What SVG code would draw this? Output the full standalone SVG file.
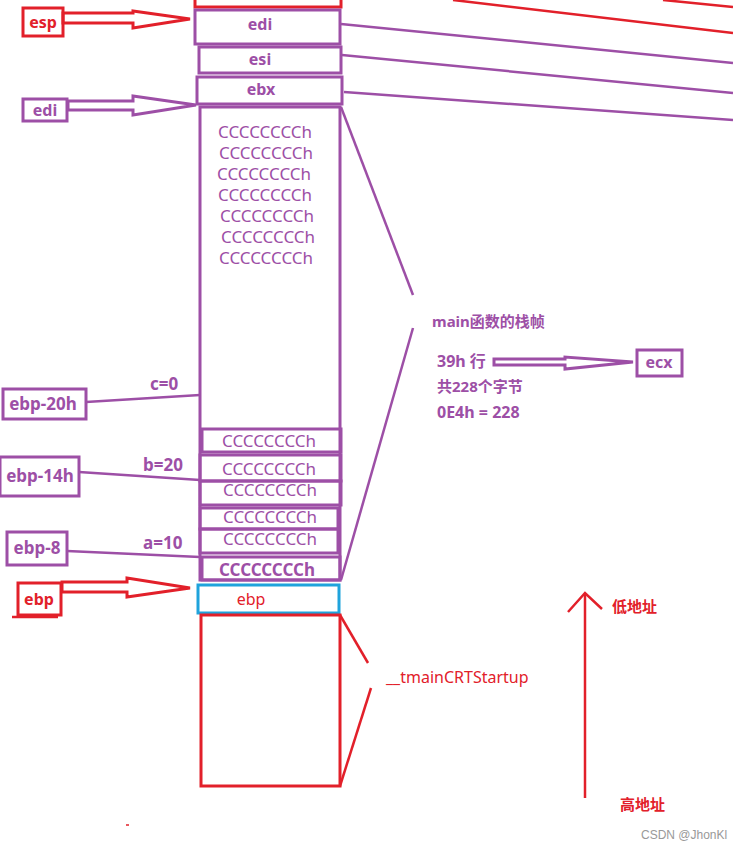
<svg xmlns="http://www.w3.org/2000/svg" width="733" height="849" viewBox="0 0 733 849">
<style>
text{font-family:"Noto Sans","Noto Sans CJK SC",sans-serif}
.p{fill:none;stroke:#9d4fa6;stroke-width:3}
.r{fill:none;stroke:#e2202a;stroke-width:3}
.b{fill:none;stroke:#1fa3dc;stroke-width:3}
.pl{fill:none;stroke:#9d4fa6;stroke-width:2.5}
.rl{fill:none;stroke:#e2202a;stroke-width:2.5}
.tp{fill:#9d4fa6;font-size:17px}
.tpb{fill:#9d4fa6;font-size:16px;font-weight:bold}
.tpc{fill:#9d4fa6;font-size:15px;font-weight:bold}
.trb{fill:#e2202a;font-size:16px;font-weight:bold}
.trc{fill:#e2202a;font-size:15px;font-weight:bold}
.tr{fill:#e2202a;font-size:16px}
.c{text-anchor:middle}
</style>
<rect width="733" height="849" fill="#fff"/>
<g id="connectors">
<line class="rl" x1="453" y1="0" x2="733" y2="33"/>
<line class="rl" x1="663" y1="0" x2="733" y2="7"/>
<line class="pl" x1="341" y1="24" x2="733" y2="63"/>
<line class="pl" x1="342" y1="55" x2="733" y2="93"/>
<line class="pl" x1="344" y1="92" x2="733" y2="120"/>
<polygon class="r" stroke-width="2.5" points="63,13 133,13 133,11 190,19 133,28 133,23 63,23"/>
<polygon class="p" stroke-width="2.5" points="68,101 133,101 133,96 196,105 133,115 133,110 68,110"/>
<line class="pl" x1="86" y1="402" x2="200" y2="395"/>
<line class="pl" x1="79" y1="472" x2="200" y2="480"/>
<line class="pl" x1="67" y1="551" x2="200" y2="557"/>
<polygon class="r" stroke-width="2.5" points="62,582 127,582 127,578 190,588 127,597 127,592 62,592"/>
<line class="pl" x1="341" y1="107" x2="413" y2="295"/>
<line class="pl" x1="413" y1="328" x2="341" y2="580"/>
<polygon class="p" stroke-width="2.5" points="494,359 565,359 565,357 633,362 565,369 565,365 494,365"/>
<line class="rl" x1="340" y1="615" x2="368" y2="663"/>
<line class="rl" x1="340" y1="786" x2="371" y2="688"/>
<line class="rl" x1="585" y1="798" x2="585" y2="594"/>
<polyline class="rl" points="568,612 585,593 602,609"/>
</g>
<g id="top-red"><rect class="r" x="195" y="-10" width="146" height="17"/></g>
<g id="edi-slot"><rect class="p" x="195" y="10" width="145" height="34"/><text class="tpb c" x="260" y="30">edi</text></g>
<g id="esi-slot"><rect class="p" x="199" y="47" width="142" height="26"/><text class="tpb c" x="260" y="65">esi</text></g>
<g id="ebx-slot"><rect class="p" x="197" y="77" width="145" height="27"/><text class="tpb c" x="261" y="95">ebx</text></g>
<g id="esp-label"><rect class="r" x="23" y="8" width="40" height="28"/><text class="trb c" x="43" y="28">esp</text></g>
<g id="edi-label"><rect class="p" x="23" y="99" width="44" height="22"/><text class="tpb c" x="45" y="116">edi</text></g>
<g id="frame">
<rect class="p" x="200" y="107" width="140" height="473"/>
<text class="tp" x="218" y="138">CCCCCCCCh</text>
<text class="tp" x="219" y="159">CCCCCCCCh</text>
<text class="tp" x="217" y="180">CCCCCCCCh</text>
<text class="tp" x="218" y="201">CCCCCCCCh</text>
<text class="tp" x="220" y="222">CCCCCCCCh</text>
<text class="tp" x="221" y="243">CCCCCCCCh</text>
<text class="tp" x="219" y="264">CCCCCCCCh</text>
</g>
<g id="slot1"><rect class="p" x="202" y="429" width="139" height="23" fill="#fff"/><text class="tp" x="222" y="447">CCCCCCCCh</text></g>
<g id="slot2"><rect class="p" x="200" y="455" width="141" height="26" fill="#fff"/><text class="tp" x="222" y="475">CCCCCCCCh</text></g>
<g id="slot3"><rect class="p" x="200" y="481" width="141" height="24" fill="#fff"/><text class="tp" x="223" y="496">CCCCCCCCh</text></g>
<g id="slot4"><rect class="p" x="200" y="508" width="138" height="21" fill="#fff"/><text class="tp" x="223" y="523">CCCCCCCCh</text></g>
<g id="slot5"><rect class="p" x="200" y="529" width="138" height="24" fill="#fff"/><text class="tp" x="223" y="545">CCCCCCCCh</text></g>
<g id="slot6"><rect class="p" x="202" y="557" width="138" height="23" fill="#fff"/><text class="tpb" x="219" y="576" style="font-size:17px">CCCCCCCCh</text></g>
<g id="ebp-20h"><rect class="p" x="3" y="389" width="83" height="30"/><text class="tpb c" x="43" y="410" style="font-size:17px">ebp-20h</text><text class="tpb" x="150" y="390" style="font-size:17px">c=0</text></g>
<g id="ebp-14h"><rect class="p" x="0" y="457" width="79" height="39"/><text class="tpb c" x="40" y="482" style="font-size:17px">ebp-14h</text><text class="tpb" x="143" y="471" style="font-size:17px">b=20</text></g>
<g id="ebp-8"><rect class="p" x="7" y="532" width="60" height="33"/><text class="tpb c" x="37" y="554" style="font-size:17px">ebp-8</text><text class="tpb" x="143" y="549" style="font-size:17px">a=10</text></g>
<g id="ebp-label"><rect class="r" x="18" y="583" width="43" height="32"/><line class="rl" stroke-width="1.5" x1="12" y1="617" x2="58" y2="617"/><text class="trb c" x="39" y="605">ebp</text></g>
<g id="ebp-slot"><rect class="b" x="198" y="585" width="141" height="28"/><text class="tr c" x="251" y="605">ebp</text></g>
<g id="caller"><rect class="r" x="201" y="615" width="139" height="171"/></g>
<g id="caller-label"><text class="tr" x="386" y="683">__tmainCRTStartup</text></g>
<g id="frame-label">
<text class="tpc" x="432" y="327">main函数的栈帧</text>
<text class="tpb" x="437" y="367">39h 行</text>
<text class="tpc" x="437" y="392">共228个字节</text>
<text class="tpb" x="437" y="418">0E4h = 228</text>
</g>
<g id="ecx"><rect class="p" x="637" y="350" width="45" height="26"/><text class="tpb c" x="659" y="368">ecx</text></g>
<g id="addr">
<text class="trc" x="612" y="612">低地址</text>
<text class="trc" x="620" y="810">高地址</text>
</g>
<line x1="126" y1="825" x2="129" y2="825" stroke="#e2202a" stroke-width="1.5"/>
<text x="641" y="839" fill="#999" font-size="12px" style="font-family:'Liberation Sans',sans-serif">CSDN @JhonKl</text>
</svg>
